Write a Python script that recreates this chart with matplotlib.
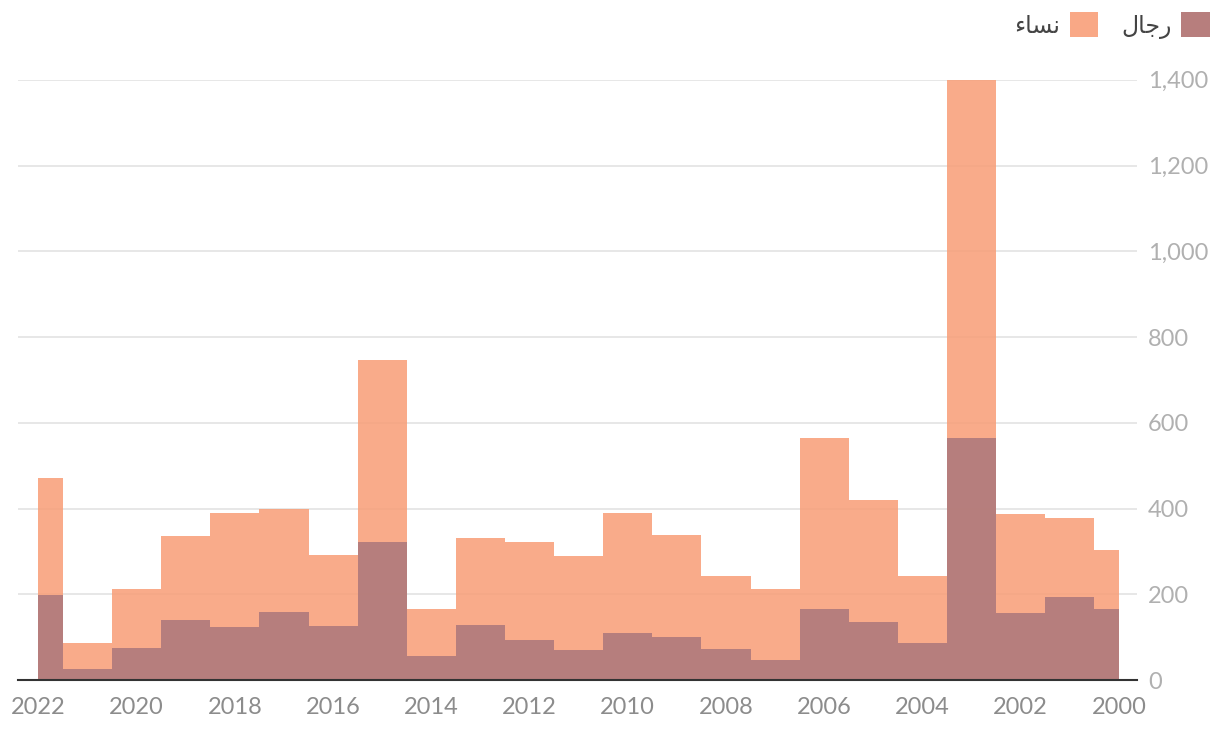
import matplotlib.pyplot as plt
import numpy as np
from matplotlib.patches import Patch

# yearly counts, 2000 -> 2022
years = list(range(2000, 2023))
women = [303, 378, 387, 1400, 243, 420, 565, 212, 243, 338, 390, 289, 322, 331,
         166, 747, 292, 399, 390, 336, 212, 86, 471]
men = [166, 194, 156, 565, 86, 135, 166, 47, 72, 100, 110, 70, 93, 128,
       56, 322, 126, 159, 124, 140, 75, 26, 198]

label_women = "\uFE80\uFE8E\uFEB4\uFEE7"   # نساء (shaped for display)
label_men = "\uFEDD\uFE8E\uFE9F\uFEAD"     # رجال (shaped for display)

women_color = '#F89D76'
men_color = '#AB777B'

plt.rcParams['font.family'] = ['Lato', 'DejaVu Sans']

fig = plt.figure(figsize=(12.2, 7.32), dpi=100)
ax = fig.add_axes([0.015, 0.071, 0.917, 0.82])

# bars centred on each year, clipped to the first/last year
edges = [years[0]] + [y + 0.5 for y in years[:-1]] + [years[-1]]
ax.stairs(women, edges, fill=True, color=women_color, alpha=0.85, zorder=2)
ax.stairs(men, edges, fill=True, color=men_color, alpha=0.85, zorder=3)

ax.set_xlim(2022.41, 1999.63)
ax.set_ylim(0, 1400)
ax.set_xticks(range(2000, 2023, 2))
ax.set_yticks(range(0, 1401, 200))
ax.yaxis.set_major_formatter(plt.FuncFormatter(lambda v, p: f'{int(v):,}'))
ax.yaxis.tick_right()
ax.tick_params(axis='y', length=0, pad=8, labelsize=17, labelcolor='#B0B0B0')
ax.tick_params(axis='x', length=0, pad=12, labelsize=17, labelcolor='#8C8C8C')
ax.grid(axis='y', color='#E3E3E3', linewidth=1.2, zorder=1)
ax.set_axisbelow(True)
for s in ['top', 'left', 'right']:
    ax.spines[s].set_visible(False)
ax.spines['bottom'].set_color('#333333')
ax.spines['bottom'].set_linewidth(1.5)
ax.spines['bottom'].set_zorder(5)

# legend swatches use the colours as they appear on the chart
handles = [Patch(facecolor='#F9A886', label=label_women),
           Patch(facecolor='#B77E7D', label=label_men)]
leg = fig.legend(handles=handles, loc='upper right', bbox_to_anchor=(1.009, 1.012),
                 ncol=2, frameon=False, markerfirst=False, handlelength=1.2,
                 handleheight=1.2, handletextpad=0.4, columnspacing=1.0,
                 prop={'family': 'DejaVu Sans', 'size': 17, 'weight': 'normal'})
for t in leg.get_texts():
    t.set_color('#444444')

fig.savefig('out.png', dpi=100)
